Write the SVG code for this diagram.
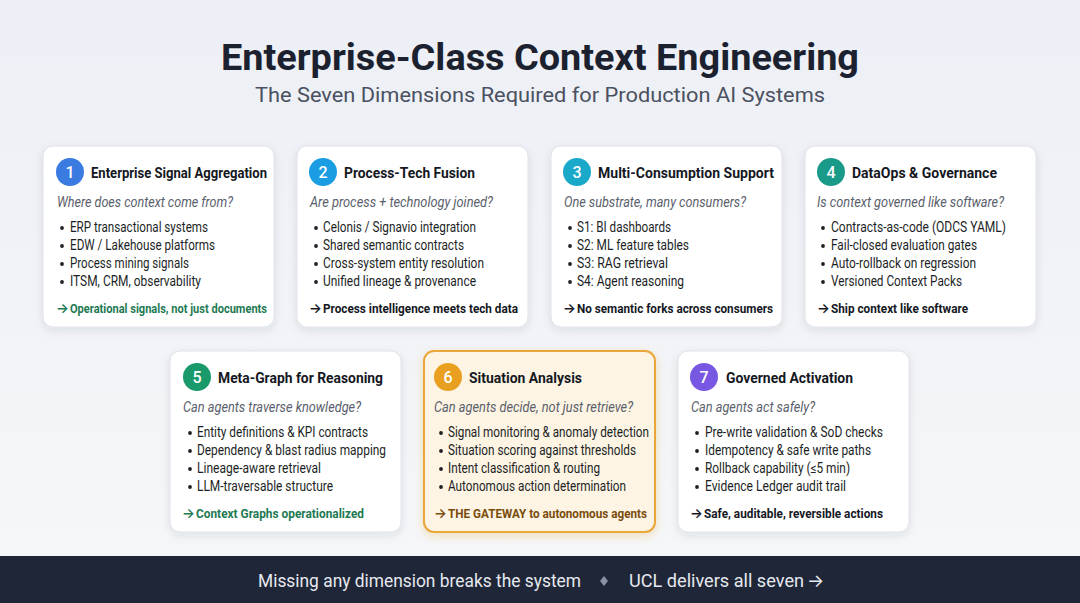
<svg xmlns="http://www.w3.org/2000/svg" width="1080" height="603" viewBox="0 0 1080 603">
<defs>
<linearGradient id="bg" x1="0" y1="0" x2="0" y2="1">
<stop offset="0" stop-color="#eceff5"/>
<stop offset="1" stop-color="#f6f7fa"/>
</linearGradient>
<filter id="sh" x="-10%" y="-10%" width="120%" height="130%">
<feDropShadow dx="0" dy="3" stdDeviation="4" flood-color="#1e2638" flood-opacity="0.10"/>
</filter>
<filter id="shg" x="-10%" y="-10%" width="120%" height="130%">
<feDropShadow dx="0" dy="3" stdDeviation="5" flood-color="#e8a020" flood-opacity="0.28"/>
</filter>
</defs>
<style>
text{font-family:Roboto,"Liberation Sans",sans-serif}
.card{fill:#ffffff;stroke:#dfe2e8;stroke-width:1}
.hot{fill:#fdf4e3;stroke:#eaa63a;stroke-width:2}
.num{fill:#ffffff;font-size:16px;font-weight:500;text-anchor:middle}
.ttl{fill:#15181f;font-size:15.5px;font-weight:700}
.q{fill:#5a606b;font-size:14px;font-style:italic}
.b{fill:#1c1f26;font-size:14px}
.dot{fill:#1c1f26}
.f{fill:#15181f;font-size:13.5px;font-weight:700}
.fg{fill:#1d7a52}
.fo{fill:#7a4c0c}
.ar{font-family:Inter,"DejaVu Sans",sans-serif;font-weight:600}
</style>
<rect x="0" y="0" width="1080" height="603" fill="url(#bg)"/>
<text x="540" y="70" text-anchor="middle" font-family="Inter,Roboto,sans-serif" font-size="36" font-weight="700" fill="#1c2130" textLength="638" lengthAdjust="spacingAndGlyphs">Enterprise-Class Context Engineering</text>
<text x="540" y="102" text-anchor="middle" font-family="Inter,Roboto,sans-serif" font-size="21" fill="#4b5160" textLength="570" lengthAdjust="spacingAndGlyphs">The Seven Dimensions Required for Production AI Systems</text>

<g id="connectors"></g>

<g id="node1">
<rect class="card" x="43" y="146" width="231" height="181" rx="10" filter="url(#sh)"/>
<circle cx="70" cy="172" r="14" fill="#3a7be2"/><text class="num" x="70" y="178">1</text>
<text class="ttl" x="91" y="178" textLength="176" lengthAdjust="spacingAndGlyphs">Enterprise Signal Aggregation</text>
<text class="q" x="57" y="207" textLength="176" lengthAdjust="spacingAndGlyphs">Where does context come from?</text>
<circle class="dot" cx="62" cy="228" r="1.9"/><text class="b" x="70" y="232" textLength="138" lengthAdjust="spacingAndGlyphs">ERP transactional systems</text>
<circle class="dot" cx="62" cy="246" r="1.9"/><text class="b" x="70" y="250" textLength="145" lengthAdjust="spacingAndGlyphs">EDW / Lakehouse platforms</text>
<circle class="dot" cx="62" cy="264" r="1.9"/><text class="b" x="70" y="268" textLength="119" lengthAdjust="spacingAndGlyphs">Process mining signals</text>
<circle class="dot" cx="62" cy="282" r="1.9"/><text class="b" x="70" y="286" textLength="131" lengthAdjust="spacingAndGlyphs">ITSM, CRM, observability</text>
<text class="f fg" x="56" y="313"><tspan class="ar">→</tspan><tspan x="70" textLength="197" lengthAdjust="spacingAndGlyphs">Operational signals, not just documents</tspan></text>
</g>

<g id="node2">
<rect class="card" x="297" y="146" width="231" height="181" rx="10" filter="url(#sh)"/>
<circle cx="323" cy="172" r="14" fill="#1a9de2"/><text class="num" x="323" y="178">2</text>
<text class="ttl" x="344" y="178" textLength="131" lengthAdjust="spacingAndGlyphs">Process-Tech Fusion</text>
<text class="q" x="310" y="207" textLength="183" lengthAdjust="spacingAndGlyphs">Are process + technology joined?</text>
<circle class="dot" cx="316" cy="228" r="1.9"/><text class="b" x="323" y="232" textLength="153" lengthAdjust="spacingAndGlyphs">Celonis / Signavio integration</text>
<circle class="dot" cx="316" cy="246" r="1.9"/><text class="b" x="323" y="250" textLength="141" lengthAdjust="spacingAndGlyphs">Shared semantic contracts</text>
<circle class="dot" cx="316" cy="264" r="1.9"/><text class="b" x="323" y="268" textLength="161" lengthAdjust="spacingAndGlyphs">Cross-system entity resolution</text>
<circle class="dot" cx="316" cy="282" r="1.9"/><text class="b" x="323" y="286" textLength="153" lengthAdjust="spacingAndGlyphs">Unified lineage &amp; provenance</text>
<text class="f" x="309" y="313"><tspan class="ar">→</tspan><tspan x="323" textLength="195" lengthAdjust="spacingAndGlyphs">Process intelligence meets tech data</tspan></text>
</g>

<g id="node3">
<rect class="card" x="551" y="146" width="231" height="181" rx="10" filter="url(#sh)"/>
<circle cx="577" cy="172" r="14" fill="#1aa9c9"/><text class="num" x="577" y="178">3</text>
<text class="ttl" x="598" y="178" textLength="176" lengthAdjust="spacingAndGlyphs">Multi-Consumption Support</text>
<text class="q" x="564" y="207" textLength="182" lengthAdjust="spacingAndGlyphs">One substrate, many consumers?</text>
<circle class="dot" cx="570" cy="228" r="1.9"/><text class="b" x="577" y="232" textLength="94" lengthAdjust="spacingAndGlyphs">S1: BI dashboards</text>
<circle class="dot" cx="570" cy="246" r="1.9"/><text class="b" x="577" y="250" textLength="112" lengthAdjust="spacingAndGlyphs">S2: ML feature tables</text>
<circle class="dot" cx="570" cy="264" r="1.9"/><text class="b" x="577" y="268" textLength="91" lengthAdjust="spacingAndGlyphs">S3: RAG retrieval</text>
<circle class="dot" cx="570" cy="282" r="1.9"/><text class="b" x="577" y="286" textLength="107" lengthAdjust="spacingAndGlyphs">S4: Agent reasoning</text>
<text class="f" x="563" y="313"><tspan class="ar">→</tspan><tspan x="577" textLength="196" lengthAdjust="spacingAndGlyphs">No semantic forks across consumers</tspan></text>
</g>

<g id="node4">
<rect class="card" x="805" y="146" width="231" height="181" rx="10" filter="url(#sh)"/>
<circle cx="831" cy="172" r="14" fill="#1a9a88"/><text class="num" x="831" y="178">4</text>
<text class="ttl" x="852" y="178" textLength="145" lengthAdjust="spacingAndGlyphs">DataOps &amp; Governance</text>
<text class="q" x="817" y="207" textLength="187" lengthAdjust="spacingAndGlyphs">Is context governed like software?</text>
<circle class="dot" cx="823" cy="228" r="1.9"/><text class="b" x="831" y="232" textLength="175" lengthAdjust="spacingAndGlyphs">Contracts-as-code (ODCS YAML)</text>
<circle class="dot" cx="823" cy="246" r="1.9"/><text class="b" x="831" y="250" textLength="146" lengthAdjust="spacingAndGlyphs">Fail-closed evaluation gates</text>
<circle class="dot" cx="823" cy="264" r="1.9"/><text class="b" x="831" y="268" textLength="145" lengthAdjust="spacingAndGlyphs">Auto-rollback on regression</text>
<circle class="dot" cx="823" cy="282" r="1.9"/><text class="b" x="831" y="286" textLength="131" lengthAdjust="spacingAndGlyphs">Versioned Context Packs</text>
<text class="f" x="817" y="313"><tspan class="ar">→</tspan><tspan x="831" textLength="137" lengthAdjust="spacingAndGlyphs">Ship context like software</tspan></text>
</g>

<g id="node5">
<rect class="card" x="170" y="351" width="231" height="181" rx="10" filter="url(#sh)"/>
<circle cx="197" cy="377" r="14" fill="#1a9a6a"/><text class="num" x="197" y="383">5</text>
<text class="ttl" x="218" y="383" textLength="165" lengthAdjust="spacingAndGlyphs">Meta-Graph for Reasoning</text>
<text class="q" x="183" y="412" textLength="178" lengthAdjust="spacingAndGlyphs">Can agents traverse knowledge?</text>
<circle class="dot" cx="190" cy="433" r="1.9"/><text class="b" x="197" y="437" textLength="171" lengthAdjust="spacingAndGlyphs">Entity definitions &amp; KPI contracts</text>
<circle class="dot" cx="190" cy="451" r="1.9"/><text class="b" x="197" y="455" textLength="189" lengthAdjust="spacingAndGlyphs">Dependency &amp; blast radius mapping</text>
<circle class="dot" cx="190" cy="469" r="1.9"/><text class="b" x="197" y="473" textLength="124" lengthAdjust="spacingAndGlyphs">Lineage-aware retrieval</text>
<circle class="dot" cx="190" cy="487" r="1.9"/><text class="b" x="197" y="491" textLength="136" lengthAdjust="spacingAndGlyphs">LLM-traversable structure</text>
<text class="f fg" x="182" y="518"><tspan class="ar">→</tspan><tspan x="196" textLength="168" lengthAdjust="spacingAndGlyphs">Context Graphs operationalized</tspan></text>
</g>

<g id="node6">
<rect class="hot" x="424" y="351" width="231" height="181" rx="10" filter="url(#shg)"/>
<circle cx="448" cy="377" r="14" fill="#e9a020"/><text class="num" x="448" y="383">6</text>
<text class="ttl" x="469" y="383" textLength="113" lengthAdjust="spacingAndGlyphs">Situation Analysis</text>
<text class="q" x="434" y="412" textLength="199" lengthAdjust="spacingAndGlyphs">Can agents decide, not just retrieve?</text>
<circle class="dot" cx="441" cy="433" r="1.9"/><text class="b" x="448" y="437" textLength="201" lengthAdjust="spacingAndGlyphs">Signal monitoring &amp; anomaly detection</text>
<circle class="dot" cx="441" cy="451" r="1.9"/><text class="b" x="448" y="455" textLength="188" lengthAdjust="spacingAndGlyphs">Situation scoring against thresholds</text>
<circle class="dot" cx="441" cy="469" r="1.9"/><text class="b" x="448" y="473" textLength="152" lengthAdjust="spacingAndGlyphs">Intent classification &amp; routing</text>
<circle class="dot" cx="441" cy="487" r="1.9"/><text class="b" x="448" y="491" textLength="178" lengthAdjust="spacingAndGlyphs">Autonomous action determination</text>
<text class="f fo" x="434" y="518"><tspan class="ar">→</tspan><tspan x="448" textLength="199" lengthAdjust="spacingAndGlyphs">THE GATEWAY to autonomous agents</tspan></text>
</g>

<g id="node7">
<rect class="card" x="678" y="351" width="231" height="181" rx="10" filter="url(#sh)"/>
<circle cx="704" cy="377" r="14" fill="#7857e2"/><text class="num" x="704" y="383">7</text>
<text class="ttl" x="726" y="383" textLength="127" lengthAdjust="spacingAndGlyphs">Governed Activation</text>
<text class="q" x="691" y="412" textLength="124" lengthAdjust="spacingAndGlyphs">Can agents act safely?</text>
<circle class="dot" cx="697" cy="433" r="1.9"/><text class="b" x="705" y="437" textLength="178" lengthAdjust="spacingAndGlyphs">Pre-write validation &amp; SoD checks</text>
<circle class="dot" cx="697" cy="451" r="1.9"/><text class="b" x="705" y="455" textLength="166" lengthAdjust="spacingAndGlyphs">Idempotency &amp; safe write paths</text>
<circle class="dot" cx="697" cy="469" r="1.9"/><text class="b" x="705" y="473" textLength="145" lengthAdjust="spacingAndGlyphs">Rollback capability (≤5 min)</text>
<circle class="dot" cx="697" cy="487" r="1.9"/><text class="b" x="705" y="491" textLength="141" lengthAdjust="spacingAndGlyphs">Evidence Ledger audit trail</text>
<text class="f" x="690" y="518"><tspan class="ar">→</tspan><tspan x="704" textLength="179" lengthAdjust="spacingAndGlyphs">Safe, auditable, reversible actions</tspan></text>
</g>

<g id="footer">
<rect x="0" y="556" width="1080" height="47" fill="#1e2638"/>
<text x="258" y="587" font-size="18" fill="#e6e9ef" textLength="323" lengthAdjust="spacingAndGlyphs">Missing any dimension breaks the system</text>
<path d="M604 576 L608 581 L604 586 L600 581 Z" fill="#8a93a6"/>
<text x="629" y="587" font-size="18" fill="#e6e9ef"><tspan textLength="175" lengthAdjust="spacingAndGlyphs">UCL delivers all seven</tspan><tspan x="807" font-family="Inter,'DejaVu Sans',sans-serif">→</tspan></text>
</g>
</svg>
